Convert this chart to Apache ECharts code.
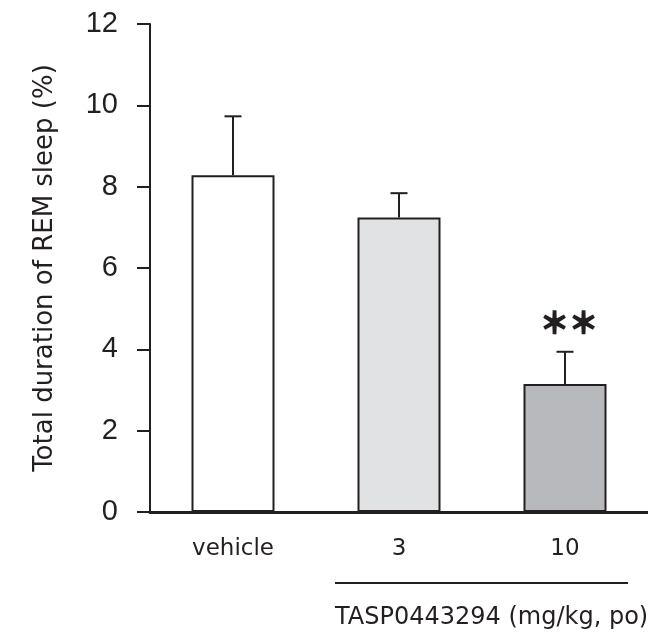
<!DOCTYPE html>
<html>
<head>
<meta charset="utf-8">
<script src="https://cdn.jsdelivr.net/npm/echarts@6/dist/echarts.min.js"></script>
<style>
  html, body { margin: 0; padding: 0; background: #fff; }
  #container { width: 648px; height: 640px; }
</style>
</head>
<body>
<div id="container"></div>
<script>
var categories = ['vehicle', '3', '10'];
var means = [8.28, 7.24, 3.15];
var sems = [1.45, 0.6, 0.79];
var stars = ['', '', '＊＊'];
var barColors = ['#ffffff', '#e1e2e4', '#b8b9bc'];
var yTicks = [0, 2, 4, 6, 8, 10, 12];

var ink = '#231f20';
var fontWide = "'DejaVu Sans', sans-serif";
var fontNum = "'Liberation Sans', Arial, sans-serif";

var dom = document.getElementById('container');
var myChart = echarts.init(dom);

var errData = categories.map(function (c, i) {
    return [i, means[i], means[i] + sems[i]];
});

var option = {
    backgroundColor: '#fff',
    animation: false,
    grid: { left: 150, top: 24, width: 501, bottom: 128 },
    xAxis: {
        type: 'category',
        data: categories,
        axisLine: { lineStyle: { color: ink, width: 3 } },
        axisTick: { show: false },
        axisLabel: { color: ink, fontSize: 23, fontFamily: fontWide, margin: 26 }
    },
    yAxis: {
        type: 'value',
        min: yTicks[0],
        max: yTicks[yTicks.length - 1],
        interval: 2,
        name: 'Total duration of REM sleep (%)',
        nameLocation: 'middle',
        nameGap: 92,
        nameTextStyle: { color: ink, fontSize: 26, fontFamily: fontWide },
        axisLine: { show: true, lineStyle: { color: ink, width: 2 } },
        axisTick: { show: true, length: 13, lineStyle: { color: ink, width: 2 } },
        axisLabel: { color: ink, fontSize: 29, fontFamily: fontNum, margin: 32 },
        splitLine: { show: false }
    },
    series: [
        {
            type: 'bar',
            barCategoryGap: '50%',
            data: means.map(function (v, i) {
                return {
                    value: v,
                    itemStyle: { color: barColors[i], borderColor: ink, borderWidth: 2 }
                };
            }),
            z: 2
        },
        {
            type: 'custom',
            z: 3,
            data: errData,
            renderItem: function (params, api) {
                var i = api.value(0);
                var base = api.coord([i, api.value(1)]);
                var top = api.coord([i, api.value(2)]);
                var half = 8.5;
                var children = [
                    { type: 'line', shape: { x1: base[0], y1: base[1], x2: top[0], y2: top[1] },
                      style: { stroke: ink, lineWidth: 2 } },
                    { type: 'line', shape: { x1: top[0] - half, y1: top[1], x2: top[0] + half, y2: top[1] },
                      style: { stroke: ink, lineWidth: 2 } }
                ];
                if (stars[i]) {
                    children.push({
                        type: 'text',
                        style: {
                            text: stars[i], x: top[0] + 4, y: top[1] - 29,
                            align: 'center', verticalAlign: 'middle',
                            fill: ink, stroke: ink, lineWidth: 1.6,
                            fontSize: 29, fontWeight: 'bold',
                            fontFamily: "'Noto Sans CJK JP', sans-serif"
                        }
                    });
                }
                return { type: 'group', children: children };
            }
        }
    ],
    graphic: [
        { type: 'line', shape: { x1: 335, y1: 583, x2: 628, y2: 583 },
          style: { stroke: ink, lineWidth: 2 } },
        { type: 'text', left: 335, top: 606,
          style: { text: 'TASP0443294 (mg/kg, po)', fill: ink, fontSize: 24, fontFamily: fontWide } }
    ]
};

myChart.setOption(option);
</script>
</body>
</html>
